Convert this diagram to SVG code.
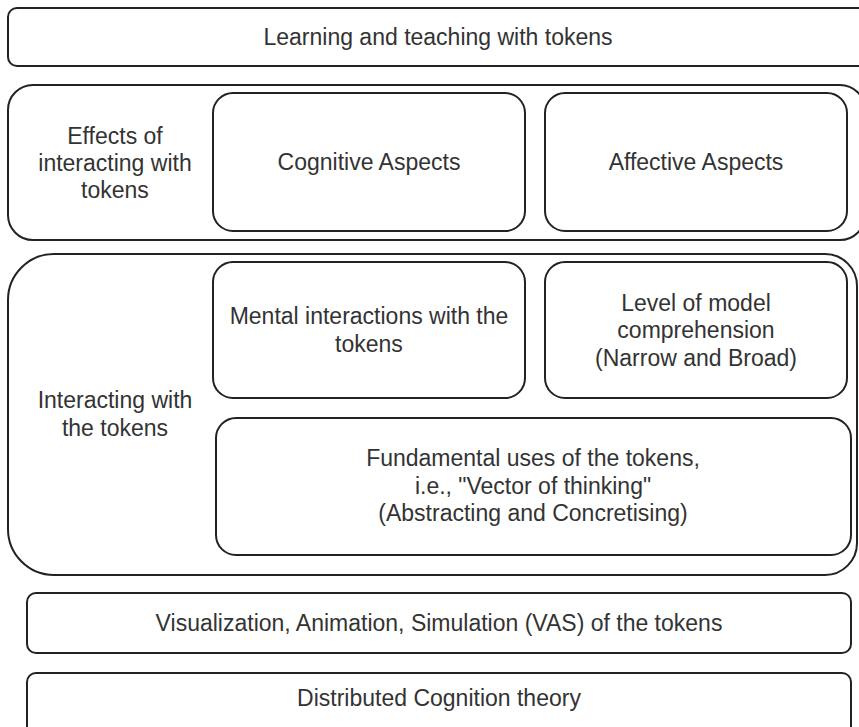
<svg xmlns="http://www.w3.org/2000/svg" width="859" height="727" viewBox="0 0 859 727">
<style>
.b{fill:#ffffff;stroke:#222222;stroke-width:2}
.t{font-family:"Liberation Sans",Arial,sans-serif;font-size:23px;fill:#333333;text-anchor:middle}
</style>
<rect x="0" y="0" width="859" height="727" fill="#ffffff"/>
<g id="learning">
<rect class="b" x="8" y="8" width="870" height="58" rx="9" ry="9"/>
<text class="t" x="438" y="45">Learning and teaching with tokens</text>
</g>
<g id="effects">
<rect class="b" x="8" y="85" width="857" height="155" rx="25" ry="25"/>
<text class="t" x="115" y="143.5">Effects of</text>
<text class="t" x="115" y="170.5">interacting with</text>
<text class="t" x="115" y="197.5">tokens</text>
</g>
<g id="cognitive">
<rect class="b" x="213" y="93" width="312" height="138" rx="20" ry="20"/>
<text class="t" x="369" y="170">Cognitive Aspects</text>
</g>
<g id="affective">
<rect class="b" x="545" y="93" width="302" height="138" rx="20" ry="20"/>
<text class="t" x="696" y="170">Affective Aspects</text>
</g>
<g id="interacting">
<path class="b" d="M54 254 H825 A32 32 0 0 1 857 286 V543 A32 32 0 0 1 825 575 H54 A46 46 0 0 1 8 529 V300 A46 46 0 0 1 54 254 Z"/>
<text class="t" x="115" y="408">Interacting with</text>
<text class="t" x="115" y="435.5">the tokens</text>
</g>
<g id="mental">
<rect class="b" x="213" y="262" width="312" height="136" rx="20" ry="20"/>
<text class="t" x="369" y="324">Mental interactions with the</text>
<text class="t" x="369" y="351.5">tokens</text>
</g>
<g id="level">
<rect class="b" x="545" y="262" width="302" height="136" rx="20" ry="20"/>
<text class="t" x="696" y="310.5">Level of model</text>
<text class="t" x="696" y="338">comprehension</text>
<text class="t" x="696" y="365.5">(Narrow and Broad)</text>
</g>
<g id="fundamental">
<rect class="b" x="216" y="418" width="635" height="137" rx="20" ry="20"/>
<text class="t" x="533" y="466">Fundamental uses of the tokens,</text>
<text class="t" x="533" y="493.5">i.e., "Vector of thinking"</text>
<text class="t" x="533" y="521">(Abstracting and Concretising)</text>
</g>
<g id="vas">
<rect class="b" x="27" y="593" width="824" height="60" rx="9" ry="9"/>
<text class="t" x="439" y="631">Visualization, Animation, Simulation (VAS) of the tokens</text>
</g>
<g id="distributed">
<rect class="b" x="27" y="673" width="824" height="64" rx="9" ry="9"/>
<text class="t" x="439" y="706">Distributed Cognition theory</text>
</g>
<g id="connectors"></g>
</svg>
